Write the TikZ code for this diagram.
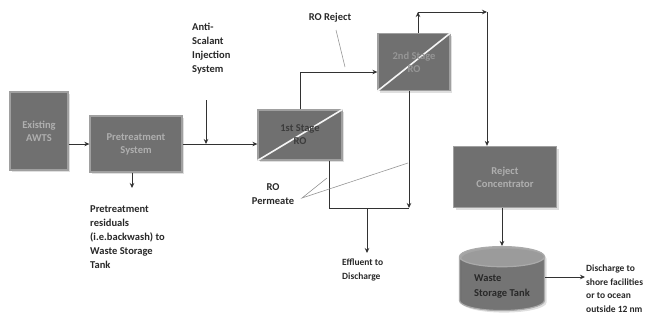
\documentclass[tikz,border=0pt]{standalone}
\usepackage{fontspec}
\setmainfont{Carlito}
\usetikzlibrary{arrows.meta,shapes.geometric,shadows,calc}
\begin{document}
\begin{tikzpicture}[x=1pt,y=-1pt,
  box/.style={rectangle, fill={rgb,255:red,112;green,112;blue,112}, draw={rgb,255:red,160;green,160;blue,160}, line width=1.3pt,
    drop shadow={opacity=0.25, shadow xshift=2pt, shadow yshift=-2pt}, text={rgb,255:red,175;green,175;blue,175},
    font=\fontsize{10.5}{13}\selectfont\bfseries, align=center, inner sep=2pt},
  lbl/.style={font=\fontsize{10.5}{14}\selectfont\bfseries, text={rgb,255:red,40;green,40;blue,40}, align=left, inner sep=0pt},
  arr/.style={draw={rgb,255:red,50;green,50;blue,50}, line width=0.8pt, -{Stealth[length=5pt,width=4.5pt]}},
  ln/.style={draw={rgb,255:red,50;green,50;blue,50}, line width=0.8pt},
  ptr/.style={draw={rgb,255:red,150;green,150;blue,150}, line width=0.6pt},
  diag/.style={draw=white!92!gray, line width=1.6pt}
]
\useasboundingbox (0,0) rectangle (649,330);

% boxes
\node[box, minimum width=58pt, minimum height=78pt] (awts) at (39,131) {Existing\\AWTS};
\node[box, minimum width=92pt, minimum height=56pt] (pre) at (136,144) {Pretreatment\\System};
\node[box, minimum width=84pt, minimum height=50pt] (ro1) at (300,135) {};
\draw[diag] (ro1.south west) -- (ro1.north east);
\node[font=\fontsize{10.5}{13}\selectfont\bfseries, text={rgb,255:red,60;green,60;blue,60}, align=center] (ro1t) at (ro1.center) {1st Stage\\RO};
\node[box, minimum width=72pt, minimum height=57pt] (ro2) at (414,62) {};
\draw[diag] (ro2.south west) -- (ro2.north east);
\node[font=\fontsize{10.5}{13}\selectfont\bfseries, text={rgb,255:red,150;green,150;blue,150}, align=center] (ro2t) at (ro2.center) {2nd Stage\\RO};
\node[box, minimum width=103pt, minimum height=61pt] (rc) at (505,177) {Reject\\Concentrator};
\node[cylinder, shape border rotate=90, aspect=0.35, minimum width=85pt, minimum height=64pt,
  cylinder uses custom fill, cylinder body fill={rgb,255:red,112;green,112;blue,112},
  cylinder end fill={rgb,255:red,165;green,165;blue,165},
  draw={rgb,255:red,170;green,170;blue,170}, line width=1.2pt,
  drop shadow={opacity=0.25, shadow xshift=2pt, shadow yshift=-2pt},
  text={rgb,255:red,40;green,40;blue,40}, font=\fontsize{10.5}{15}\selectfont\bfseries, align=left, inner sep=1pt] (tank) at (502,285) {\\[-6pt]Waste\\Storage Tank};

% labels
\node[lbl, anchor=north west] (anti) at (192,23) {Anti-\\Scalant\\Injection\\System};
\node[lbl] (rej) at (330,18) {RO Reject};
\node[lbl, align=center] (perm) at (273,194) {RO\\Permeate};
\node[lbl, anchor=north west] (resid) at (90,205) {Pretreatment\\residuals\\(i.e.backwash) to\\Waste Storage\\Tank};
\node[lbl, anchor=north west, font=\fontsize{9.5}{14}\selectfont\bfseries] (eff) at (342,259) {Effluent to\\Discharge};
\node[lbl, anchor=north west, font=\fontsize{9.5}{13.5}\selectfont\bfseries] (dis) at (586,265) {Discharge to\\shore facilities\\or to ocean\\outside 12 nm};

% coordinates
\coordinate (inj) at (206,100);
\coordinate (t1) at (418,12);
\coordinate (t2) at (487,12);
\coordinate (j1) at (329,208);
\coordinate (j2) at (409,208);
\coordinate (m) at (367,208);
\coordinate (effend) at (367,253);
\coordinate (preout) at (132,188);
\coordinate (disend) at (585,277);
\coordinate (p0) at (302,198);
\coordinate (p1) at (327,178);
\coordinate (p2) at (408,163);
\coordinate (r0) at (336,30);
\coordinate (r1) at (345,67);

% connectors
\draw[arr] (awts.east |- pre.west) -- (pre.west);
\draw[arr] (pre.east) -- (ro1.west |- pre.east);
\draw[arr] (inj) -- (inj |- pre.east);
\draw[arr] (ro1.north) |- ($(ro2.west)+(0,10)$);
\draw[arr] (ro2.north -| t1) -- (t1);
\draw[arr] (t1) -- (t2);
\draw[arr] (t2) -- (t2 |- rc.north);
\draw[arr] (ro2.south -| j2) -- (j2);
\draw[ln] (ro1.south -| j1) -- (j1) -- (j2);
\draw[arr] (m) -- (effend);
\draw[arr] (pre.south -| preout) -- (preout);
\draw[arr] (rc.south -| tank.north) -- (tank.north);
\draw[arr] (tank.east |- disend) -- (disend);
\draw[ptr] (p1) -- (p0) -- (p2);
\draw[ptr] (r0) -- (r1);
\end{tikzpicture}
\end{document}
